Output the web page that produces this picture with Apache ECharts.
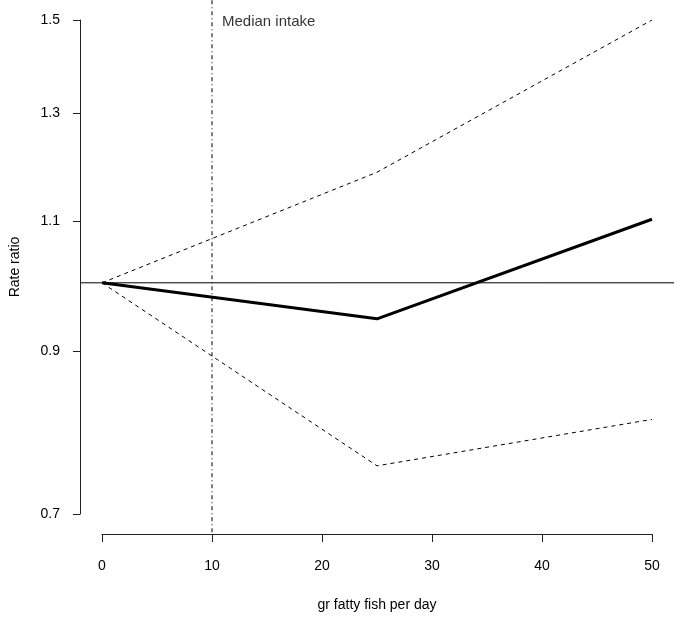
<!DOCTYPE html>
<html>
<head>
<meta charset="utf-8">
<script src="https://cdn.jsdelivr.net/npm/echarts@6/dist/echarts.min.js"></script>
<style>html,body{margin:0;padding:0;background:#fff}#c{width:679px;height:620px}</style>
</head>
<body>
<div id="c"></div>
<script>
// Data
const intake = [0, 25, 50];
const rateRatio = [1.0, 0.946, 1.103];
const upperCI = [1.0, 1.186, 1.5];
const lowerCI = [1.0, 0.754, 0.81];
const xTicks = [0, 10, 20, 30, 40, 50];
const yTicks = [0.7, 0.9, 1.1, 1.3, 1.5];
const medianIntake = 10;
const refRatio = 1;
const medianLabel = 'Median intake';

const FONT = '"Liberation Sans", Arial, Helvetica, sans-serif';
const L = Math.log;
const yMin = L(yTicks[0]), yMax = L(yTicks[yTicks.length - 1]);
const yExp = 0.04 * (yMax - yMin);
const xMin = xTicks[0], xMax = xTicks[xTicks.length - 1];
const xExp = 0.04 * (xMax - xMin);

const toPts = arr => intake.map((x, i) => [x, L(arr[i])]);

// ablines: [x1, y1, x2, y2, dashed]
const abData = [
  [xMin - xExp, L(refRatio), xMax + xExp, L(refRatio), 0],
  [medianIntake, yMax + yExp, medianIntake, yMin - yExp, 1]
];

const chart = echarts.init(document.getElementById('c'), null, {renderer: 'canvas'});
chart.setOption({
  animation: false,
  backgroundColor: '#fff',
  textStyle: {fontFamily: FONT},
  grid: {left: 102, right: 27, top: 20, bottom: 106},
  xAxis: {
    type: 'value', min: xMin, max: xMax, interval: 10, offset: 20,
    name: 'gr fatty fish per day', nameLocation: 'middle', nameGap: 64,
    nameTextStyle: {fontSize: 14, color: '#000', fontFamily: FONT},
    axisLine: {show: true, onZero: false, lineStyle: {color: '#222', width: 1}},
    axisTick: {show: true, length: 8, lineStyle: {color: '#222'}},
    axisLabel: {fontSize: 14, color: '#000', margin: 25, fontFamily: FONT, showMinLabel: true, showMaxLabel: true},
    splitLine: {show: false}
  },
  yAxis: {
    type: 'value', min: yMin, max: yMax, offset: 22,
    name: 'Rate ratio', nameLocation: 'middle', nameGap: 58, nameRotate: 90,
    nameTextStyle: {fontSize: 14, color: '#000', fontFamily: FONT},
    axisLine: {show: true, onZero: false, lineStyle: {color: '#222', width: 1}},
    axisTick: {show: true, length: 7, lineStyle: {color: '#222'}, customValues: yTicks.map(L)},
    axisLabel: {fontSize: 14, color: '#000', margin: 20, fontFamily: FONT,
      customValues: yTicks.map(L), formatter: v => Math.exp(v).toFixed(1)},
    splitLine: {show: false}
  },
  series: [
    {type: 'custom', clip: false, silent: true, data: abData,
      renderItem: (params, api) => {
        const p1 = api.coord([api.value(0), api.value(1)]);
        const p2 = api.coord([api.value(2), api.value(3)]);
        return {type: 'line', shape: {x1: p1[0], y1: p1[1], x2: p2[0], y2: p2[1]},
          style: {stroke: '#000', lineWidth: 1, lineDash: api.value(4) ? [4, 3, 1, 3] : null}};
      }},
    {type: 'line', symbol: 'none', silent: true, data: toPts(upperCI),
      lineStyle: {color: '#000', width: 1, type: [4, 4]}},
    {type: 'line', symbol: 'none', silent: true, data: toPts(lowerCI),
      lineStyle: {color: '#000', width: 1, type: [4, 4]}},
    {type: 'line', symbol: 'none', silent: true, data: toPts(rateRatio),
      lineStyle: {color: '#000', width: 3}},
    {type: 'scatter', symbolSize: 0, silent: true, clip: false,
      data: [[medianIntake, yMax]],
      label: {show: true, position: 'right', distance: 10, offset: [0, 2],
        formatter: medianLabel, fontSize: 15, color: '#000', fontFamily: FONT}}
  ]
});
</script>
</body>
</html>
